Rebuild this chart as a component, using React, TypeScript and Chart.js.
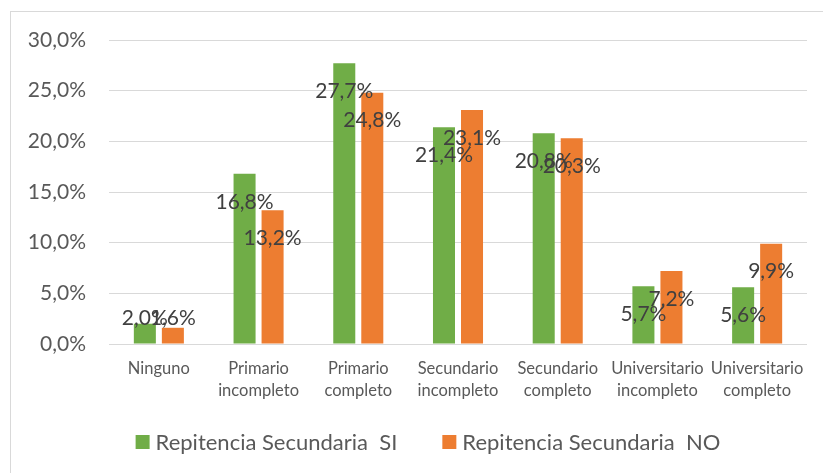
import { useEffect, useRef } from "react";
import { Chart, registerables } from "chart.js";

Chart.register(...registerables);

const categories: string[][] = [
  ["Ninguno"],
  ["Primario", "incompleto"],
  ["Primario", "completo"],
  ["Secundario", "incompleto"],
  ["Secundario", "completo"],
  ["Universitario", "incompleto"],
  ["Universitario", "completo"],
];
const seriesNames = ["Repitencia Secundaria  SI", "Repitencia Secundaria  NO"];
const valuesSI = [2.0, 16.8, 27.7, 21.4, 20.8, 5.7, 5.6];
const valuesNO = [1.6, 13.2, 24.8, 23.1, 20.3, 7.2, 9.9];
const seriesColors = ["#70AD47", "#ED7D31"];
const yMin = 0;
const yMax = 30;
const yStep = 5;

const FONT = "Lato";
const CANVAS_W = 834;
const CANVAS_H = 470;

const fmt = (v: number) => v.toFixed(1).replace(".", ",") + "%";

const labelPlugin = {
  id: "barLabels",
  afterDatasetsDraw(chart: any) {
    const ctx = chart.ctx;
    ctx.save();
    ctx.font = `21px ${FONT}`;
    ctx.fillStyle = "#404040";
    ctx.textAlign = "center";
    ctx.textBaseline = "middle";
    chart.data.datasets.forEach((ds: any, di: number) => {
      const meta = chart.getDatasetMeta(di);
      meta.data.forEach((el: any, i: number) => {
        const y = Math.min(el.y + 28, el.base - 25);
        ctx.fillText(fmt(ds.data[i]), el.x, y);
      });
    });
    ctx.restore();
  },
};

const legendPlugin = {
  id: "customLegend",
  afterDraw(chart: any) {
    const ctx = chart.ctx;
    ctx.save();
    ctx.font = `22px ${FONT}`;
    ctx.textBaseline = "middle";
    ctx.textAlign = "left";
    const sq = 14;
    const gap = 6;
    const itemGap = 45;
    const items = chart.data.datasets.map((ds: any) => ({
      text: ds.label,
      color: ds.backgroundColor,
      w: ctx.measureText(ds.label).width,
    }));
    const total =
      items.reduce((s: number, it: any) => s + sq + gap + it.w, 0) +
      itemGap * (items.length - 1);
    let x = chart.width / 2 - total / 2;
    const cy = 430;
    items.forEach((it: any) => {
      ctx.fillStyle = it.color;
      ctx.fillRect(x, cy - sq / 2, sq, sq);
      x += sq + gap;
      ctx.fillStyle = "#595959";
      ctx.fillText(it.text, x, cy + 1);
      x += it.w + itemGap;
    });
    ctx.restore();
  },
};

export default function App() {
  const ref = useRef<HTMLCanvasElement | null>(null);

  useEffect(() => {
    if (!ref.current) return;
    const XH = 60;
    const chart = new Chart(ref.current, {
      type: "bar",
      data: {
        labels: categories,
        datasets: [
          {
            label: seriesNames[0],
            data: valuesSI,
            backgroundColor: seriesColors[0],
            barPercentage: 0.786,
            categoryPercentage: 0.562,
          },
          {
            label: seriesNames[1],
            data: valuesNO,
            backgroundColor: seriesColors[1],
            barPercentage: 0.786,
            categoryPercentage: 0.562,
          },
        ],
      },
      options: {
        responsive: false,
        animation: false,
        devicePixelRatio: 1,
        layout: {
          padding: { left: 0, top: 28, right: 38, bottom: CANVAS_H - 332 - XH },
        },
        plugins: {
          legend: { display: false },
          tooltip: { enabled: false },
        },
        scales: {
          x: {
            grid: { display: false, drawTicks: false },
            border: { display: false },
            ticks: {
              color: "#595959",
              font: { family: FONT, size: 16.5, lineHeight: "22px" },
              padding: 14,
              maxRotation: 0,
              autoSkip: false,
            },
            afterFit: (s: any) => {
              s.height = XH;
              s.paddingLeft = 0;
              s.paddingRight = 0;
            },
          },
          y: {
            min: yMin,
            max: yMax,
            grid: { color: "#D9D9D9", lineWidth: 1, drawTicks: false },
            border: { display: false },
            ticks: {
              stepSize: yStep,
              color: "#595959",
              font: { family: FONT, size: 21 },
              padding: 23,
              callback: (v: any) => fmt(Number(v)),
            },
            afterFit: (s: any) => {
              s.width = 98;
              s.paddingTop = 0;
              s.paddingBottom = 0;
            },
          },
        },
      },
      plugins: [labelPlugin, legendPlugin],
    });
    return () => chart.destroy();
  }, []);

  return (
    <div
      style={{
        position: "fixed",
        left: 0,
        top: 0,
        width: 823,
        height: 473,
        overflow: "hidden",
        background: "#fff",
      }}
    >
      <div
        style={{
          position: "absolute",
          left: 10,
          top: 11,
          width: CANVAS_W,
          height: CANVAS_H,
          border: "1px solid #D9D9D9",
          background: "#fff",
        }}
      >
        <canvas
          ref={ref}
          width={CANVAS_W}
          height={CANVAS_H}
          style={{ display: "block", width: CANVAS_W, height: CANVAS_H }}
        />
      </div>
    </div>
  );
}
